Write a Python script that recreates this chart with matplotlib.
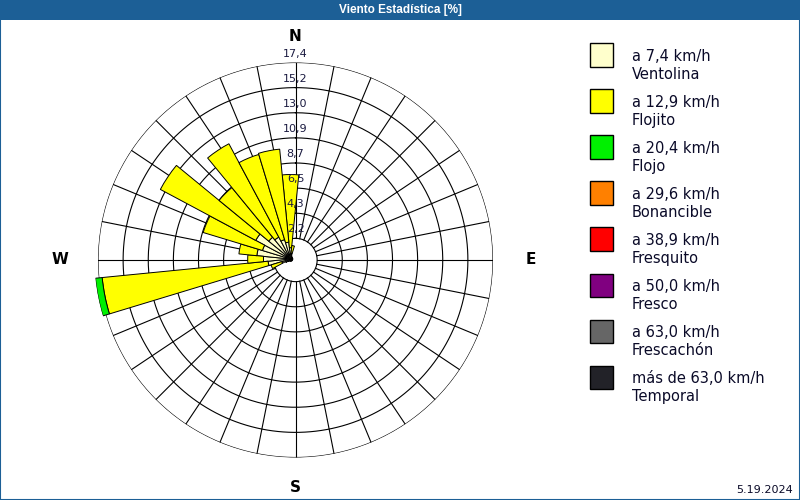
import numpy as np
import matplotlib.pyplot as plt
from matplotlib.patches import Rectangle
from matplotlib.transforms import offset_copy

W_PX, H_PX = 800, 500
BLUE = '#1c5f96'
TXT = '#0a0a28'

# 32 directions, clockwise from north
directions = np.arange(32) * 11.25
ventolina = [1.0, 0.5, 0.3, 0.2, 0.2, 0.2, 0.2, 0.2,
             0.2, 0.2, 0.2, 0.2, 0.2, 0.2, 0.2, 0.2,
             0.2, 0.2, 0.2, 0.2, 0.3, 0.5, 0.8, 2.0,
             2.4, 3.0, 2.6, 3.5, 2.5, 2.2, 1.8, 1.5]
flojito = [6.5, 0.7, 0, 0, 0, 0, 0, 0,
           0, 0, 0, 0, 0, 0, 0, 0,
           0, 0, 0, 0, 0, 0, 1.0, 14.8,
           1.4, 1.6, 5.5, 9.6, 5.7, 9.4, 7.9, 8.3]
flojo = [0] * 23 + [0.6] + [0] * 8

r_max = 17.4
ring_labels = ['2,2', '4,3', '6,5', '8,7', '10,9', '13,0', '15,2', '17,4']
compass = ['N', 'E', 'S', 'W']

legend_speeds = ['a 7,4 km/h', 'a 12,9 km/h', 'a 20,4 km/h', 'a 29,6 km/h',
                 'a 38,9 km/h', 'a 50,0 km/h', 'a 63,0 km/h', 'más de 63,0 km/h']
legend_names = ['Ventolina', 'Flojito', 'Flojo', 'Bonancible',
                'Fresquito', 'Fresco', 'Frescachón', 'Temporal']
legend_colors = ['#ffffcc', '#ffff00', '#00f000', '#ff8000',
                 '#ff0000', '#800080', '#666666', '#222228']


def fx(x):
    return x / W_PX


def fy(y):
    return 1 - y / H_PX


fig = plt.figure(figsize=(8, 5), dpi=100)
fig.patch.set_facecolor('white')

# header bar and frame
fig.patches.append(Rectangle((0, fy(20)), 1, 20 / H_PX, transform=fig.transFigure,
                             facecolor=BLUE, edgecolor='none', zorder=0))
fig.patches.append(Rectangle((0, 0), 1, 1, transform=fig.transFigure, fill=False,
                             edgecolor=BLUE, lw=1.5, zorder=5))
fig.text(0.5, fy(10), 'Viento Estadística [%]', color='white', fontsize=8.5,
         ha='center', va='center', family='Liberation Sans', fontweight='bold')

# grid axes
gc, gr = (295.5, 260), 197.5
ax_g = fig.add_axes([fx(gc[0] - gr), fy(gc[1] + gr), 2 * gr / W_PX, 2 * gr / H_PX],
                    projection='polar')
ax_g.set_theta_zero_location('N')
ax_g.set_theta_direction(-1)
ax_g.set_rlim(0.3, r_max)
ax_g.axis('off')

rings = r_max * np.arange(1, 9) / 8
th = np.linspace(0, 2 * np.pi, 400)
for r in rings:
    ax_g.plot(th, np.full_like(th, r), color='black', lw=0.8)
for d in np.deg2rad(directions):
    ax_g.plot([d, d], [rings[0], r_max], color='black', lw=0.8)

for lab, (x, y) in zip(compass, [(0.5, 1.066), (1.096, 0.5), (0.5, -0.077), (-0.096, 0.5)]):
    ax_g.text(x, y, lab, transform=ax_g.transAxes, fontsize=11, fontweight='bold',
              ha='center', va='center', clip_on=False)

# bars axes (drawn on top of the grid)
bc, br = (290.5, 259), 196
ax_b = fig.add_axes([fx(bc[0] - br), fy(bc[1] + br), 2 * br / W_PX, 2 * br / H_PX],
                    projection='polar')
ax_b.set_theta_zero_location('N')
ax_b.set_theta_direction(-1)
ax_b.set_rlim(0, r_max)
ax_b.axis('off')
ax_b.patch.set_alpha(0)

theta = np.deg2rad(directions)
width = 2 * np.pi / 32
bottom = np.zeros(32)
for vals, col in zip([ventolina, flojito, flojo], legend_colors[:3]):
    vals = np.array(vals, dtype=float)
    m = vals > 0
    ax_b.bar(theta[m], vals[m], width=width, bottom=bottom[m], color=col,
             edgecolor='black', lw=0.7, align='center')
    bottom = bottom + vals

# ring labels on top of everything
lab_tr = offset_copy(ax_g.transData, fig=fig, x=0, y=9, units='dots')
for r, lab in zip(rings, ring_labels):
    fig.text(0, r, lab, transform=lab_tr, fontsize=8, color='#1a1a40',
             ha='center', va='center', zorder=6)

# legend
for i, (sp, nm, col) in enumerate(zip(legend_speeds, legend_names, legend_colors)):
    top = 43.5 + 46 * i
    fig.patches.append(Rectangle((fx(590), fy(top + 23)), 23 / W_PX, 23 / H_PX,
                                 transform=fig.transFigure, facecolor=col,
                                 edgecolor='black', lw=1, zorder=3))
    fig.text(fx(632), fy(top + 13), sp, fontsize=10.5, color=TXT, va='center')
    fig.text(fx(632), fy(top + 31), nm, fontsize=10.5, color=TXT, va='center')

fig.text(fx(793), fy(490), '5.19.2024', fontsize=8, color=TXT, ha='right', va='center')

fig.savefig('out.png', dpi=100)
